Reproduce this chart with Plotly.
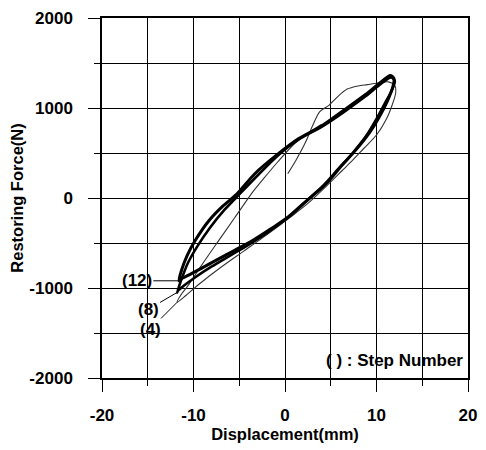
import plotly.graph_objects as go

# Hysteresis loops: restoring force (N) vs displacement (mm) for three test steps.
# Each path runs tip -> upper branch -> peak -> lower branch -> tip.
step12_x = [-11.6, -11.3, -10.7, -9.8, -8.3, -6.8, -5.3, -3.3, -1.0, 1.5, 4.0, 6.5, 8.8, 10.5, 11.5, 11.9,
            11.8, 11.2, 10.3, 9.2, 7.8, 6.2, 4.5, 2.5, 0.5, -1.5, -3.5, -5.5, -7.5, -9.3, -10.6, -11.4, -11.6]
step12_y = [-920, -800, -640, -470, -250, -90, 40, 270, 470, 660, 800, 980, 1150, 1290, 1360, 1330,
            1240, 1080, 900, 720, 540, 360, 160, -20, -200, -340, -470, -580, -690, -790, -860, -900, -920]

step8_x = [-11.8, -11.3, -10.6, -9.6, -8.2, -6.6, -5.0, -3.0, -0.8, 1.5, 4.0, 6.5, 8.8, 10.5, 11.6, 12.0,
           11.6, 10.9, 10.0, 8.8, 7.4, 5.8, 4.0, 2.0, 0.0, -2.0, -4.0, -6.0, -8.0, -9.8, -11.0, -11.7, -11.8]
step8_y = [-1050, -900, -720, -540, -330, -130, 40, 250, 470, 650, 790, 960, 1130, 1270, 1340, 1300,
           1180, 1050, 880, 680, 500, 320, 120, -60, -240, -390, -520, -640, -760, -880, -970, -1030, -1050]

step4_x = [0.3, 1.2, 2.2, 3.0, 3.8, 4.8, 5.8, 6.8, 8.0, 9.0, 10.3, 11.3, 12.0, 12.1, 11.7, 11.1, 10.0,
           8.6, 7.4, 6.2, 4.5, 2.5, 0.5, -2.0, -4.5, -7.0, -9.3, -10.8, -11.8, -11.4, -10.5, -9.2, -7.5,
           -5.5, -3.5, -2.3, -0.8, 1.0, 2.5, 4.0]
step4_y = [270, 420, 610, 800, 960, 1030, 1130, 1210, 1245, 1260, 1280, 1290, 1250, 1170, 1030, 880,
           700, 550, 420, 300, 130, -60, -220, -410, -590, -770, -950, -1080, -1160, -1080, -960, -760,
           -510, -220, 70, 220, 400, 600, 720, 820]

step_labels = ["(12)", "(8)", "(4)"]

x_ticks = [-20, -10, 0, 10, 20]
y_ticks = [-2000, -1000, 0, 1000, 2000]

FONT = "Liberation Sans, Arial, sans-serif"

fig = go.Figure()

loops = [
    (step4_x, step4_y, 1.1, "#333333"),
    (step8_x, step8_y, 2.6, "black"),
    (step12_x, step12_y, 3.0, "black"),
]
for xs, ys, w, c in loops:
    fig.add_trace(go.Scatter(x=xs, y=ys, mode="lines",
                             line=dict(color=c, width=w, shape="spline", smoothing=0.8),
                             showlegend=False, hoverinfo="skip"))

# leader labels pointing at the negative tips of each loop
tip4 = step4_y.index(min(step4_y))
tips = [
    (step12_x[0], step12_y[0], -42, 0),
    (step8_x[0], step8_y[0], -29, 17),
    (step4_x[tip4], step4_y[tip4], -27, 27),
]
for label, (tx, ty, ax, ay) in zip(step_labels, tips):
    fig.add_annotation(x=tx, y=ty, ax=ax, ay=ay, text=label, showarrow=True,
                       arrowhead=0, arrowwidth=1, arrowcolor="black", standoff=0,
                       font=dict(family=FONT, size=17, color="black", weight="bold"))

fig.add_annotation(x=0.798, y=0.05, xref="paper", yref="paper", text="( ) : Step Number",
                   showarrow=False, xanchor="center", yanchor="middle",
                   font=dict(family=FONT, size=17, color="black", weight="bold"))

axis_common = dict(
    showgrid=True, gridcolor="black", gridwidth=1.3,
    showline=True, linecolor="black", linewidth=1.5, mirror=True,
    ticks="outside", ticklen=12, tickwidth=1.3, tickcolor="black",
    zeroline=False,
    tickfont=dict(family=FONT, size=17, color="black", weight="bold"),
)

fig.update_xaxes(
    range=[-20, 20], tickvals=x_ticks, ticktext=[str(v) for v in x_ticks],
    ticklabelstandoff=9,
    minor=dict(dtick=5, tick0=0, ticks="outside", ticklen=6, tickcolor="black",
               showgrid=True, gridcolor="black", gridwidth=1.3),
    title=dict(text="Displacement(mm)", standoff=4,
               font=dict(family=FONT, size=16.5, color="black", weight="bold")),
    **axis_common,
)
fig.update_yaxes(
    range=[-2000, 2000], tickvals=y_ticks, ticktext=[str(v) for v in y_ticks],
    ticklabelstandoff=12,
    minor=dict(dtick=500, tick0=0, ticks="outside", ticklen=6, tickcolor="black",
               showgrid=True, gridcolor="black", gridwidth=1.3),
    title=dict(text="Restoring Force(N)", standoff=2,
               font=dict(family=FONT, size=16.5, color="black", weight="bold")),
    **axis_common,
)

fig.update_layout(
    width=486, height=450,
    margin=dict(l=102, r=9, t=14, b=68),
    plot_bgcolor="white", paper_bgcolor="white",
    showlegend=False,
)

fig.write_html("out.html")
